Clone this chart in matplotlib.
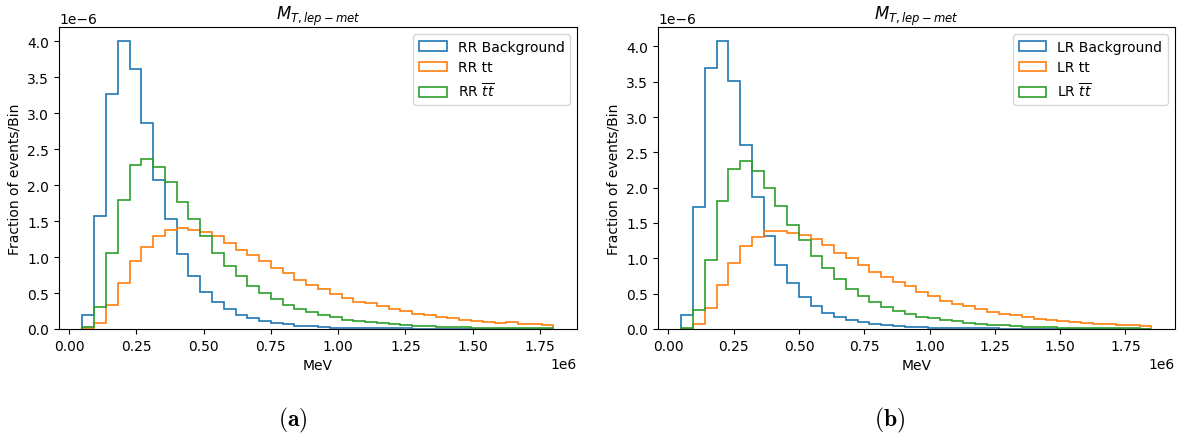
"""
Transverse mass M_T(lep-met) distributions, RR and LR polarisations
"""
import matplotlib.pyplot as plt
import numpy as np

# bin edges (MeV), 40 bins each
edges_rr = np.linspace(0.05e6, 1.80e6, 41)
edges_lr = np.linspace(0.05e6, 1.85e6, 41)

# fraction of events per bin (x1e-6)
rr_bkg = [0.20, 1.57, 3.27, 4.00, 3.61, 2.86, 2.07, 1.53, 1.04, 0.74,
          0.52, 0.37, 0.28, 0.20, 0.15, 0.11, 0.09, 0.065, 0.046, 0.037,
          0.028, 0.020, 0.016, 0.013, 0.011, 0.009, 0.008, 0.007, 0.006, 0.005,
          0.004, 0.004, 0.003, 0.003, 0.003, 0.002, 0.002, 0.002, 0.002, 0.001]
rr_tt = [0.015, 0.08, 0.33, 0.64, 0.95, 1.14, 1.30, 1.38, 1.41, 1.37,
         1.35, 1.29, 1.20, 1.10, 1.03, 0.95, 0.85, 0.78, 0.68, 0.61,
         0.55, 0.48, 0.43, 0.38, 0.355, 0.315, 0.28, 0.245, 0.213, 0.20,
         0.17, 0.153, 0.125, 0.116, 0.093, 0.083, 0.10, 0.074, 0.07, 0.056]
rr_ttbar = [0.023, 0.31, 1.06, 1.80, 2.28, 2.37, 2.25, 2.04, 1.77, 1.53,
            1.29, 1.06, 0.88, 0.74, 0.60, 0.50, 0.42, 0.34, 0.28, 0.23,
            0.195, 0.16, 0.13, 0.11, 0.093, 0.079, 0.065, 0.056, 0.046, 0.037,
            0.033, 0.028, 0.024, 0.020, 0.017, 0.014, 0.012, 0.010, 0.009, 0.007]

lr_bkg = [0.198, 1.73, 3.70, 4.07, 3.51, 2.60, 1.87, 1.32, 0.91, 0.65,
          0.45, 0.32, 0.22, 0.174, 0.122, 0.094, 0.07, 0.056, 0.038, 0.03,
          0.025, 0.02, 0.016, 0.013, 0.011, 0.009, 0.008, 0.007, 0.006, 0.005,
          0.004, 0.004, 0.003, 0.003, 0.003, 0.002, 0.002, 0.002, 0.002, 0.001]
lr_tt = [0.005, 0.07, 0.30, 0.62, 0.93, 1.18, 1.30, 1.38, 1.38, 1.36,
         1.33, 1.28, 1.19, 1.07, 1.00, 0.90, 0.81, 0.74, 0.67, 0.61,
         0.53, 0.46, 0.40, 0.35, 0.32, 0.28, 0.245, 0.216, 0.193, 0.165,
         0.146, 0.127, 0.108, 0.099, 0.085, 0.075, 0.066, 0.061, 0.052, 0.047]
lr_ttbar = [0.014, 0.27, 0.98, 1.81, 2.27, 2.38, 2.23, 2.00, 1.74, 1.47,
            1.26, 1.03, 0.86, 0.71, 0.57, 0.47, 0.386, 0.315, 0.254, 0.207,
            0.174, 0.15, 0.127, 0.108, 0.089, 0.075, 0.061, 0.052, 0.042, 0.035,
            0.030, 0.025, 0.021, 0.018, 0.015, 0.013, 0.011, 0.009, 0.008, 0.007]

panels = [('RR', edges_rr, [rr_bkg, rr_tt, rr_ttbar]),
          ('LR', edges_lr, [lr_bkg, lr_tt, lr_ttbar])]
names = ['Background', 'tt', r'$\overline{tt}$']
positions = [[0.0497, 0.2483, 0.4368, 0.6879],
             [0.5548, 0.2483, 0.4359, 0.6879]]
captions = ['(a)', '(b)']
cap_x = [0.247, 0.750]

plt.rcParams['font.size'] = 10
plt.rcParams['mathtext.fontset'] = 'dejavusans'
fig = plt.figure(figsize=(11.86, 4.39), dpi=100)

for i in range(0, len(panels)):
    pol, edges, series = panels[i]
    ax = fig.add_axes(positions[i])
    centers = 0.5 * (edges[:-1] + edges[1:])
    for j in range(0, len(series)):
        ax.hist(centers, bins=edges, weights=np.array(series[j]) * 1e-6,
                histtype='step', label=pol + ' ' + names[j], linewidth=1.2)
    ax.set_xlabel('MeV')
    ax.set_ylabel('Fraction of events/Bin')
    ax.set_title(r'$M_{T,lep-met}$')
    ax.legend(loc='upper right')
    fig.text(cap_x[i], 0.043, r'$\mathbf{' + captions[i] + '}$',
             ha='center', va='center', fontsize=17,
             math_fontfamily='cm')

plt.savefig('out.png', dpi=100)
